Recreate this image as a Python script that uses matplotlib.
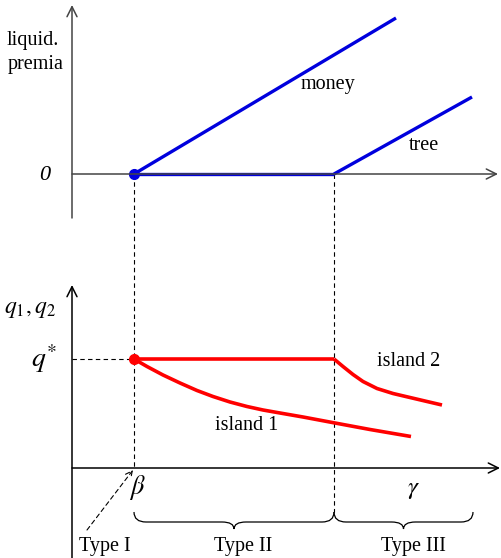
import matplotlib
matplotlib.use('Agg')
import matplotlib.pyplot as plt
from matplotlib.path import Path
from matplotlib.patches import PathPatch

plt.rcParams['font.family'] = ['Liberation Serif', 'DejaVu Serif']
plt.rcParams['mathtext.fontset'] = 'stix'

# picture coordinates (pixels, y grows downward)
x_axis = 72
beta_x = 134
gamma_x = 334
top_zero = 174
bot_zero = 468
qstar = 359

# liquidity premia (top panel)
money_x = [134, 396]
money_y = [174, 18]
flat_x = [134, 334]
flat_y = [174, 174]
tree_x = [334, 472]
tree_y = [174, 97]

# q1, q2 (bottom panel)
q_flat_x = [134, 334]
q_flat_y = [359, 359]
isl1_x = [134, 147, 163, 180, 197, 213, 230, 247, 263, 280, 303, 335, 370, 411]
isl1_y = [359, 366.5, 375, 383, 390.5, 396.5, 402, 406.5, 410, 413, 417, 423, 429.5, 436.5]
isl2_x = [334, 343, 353, 363, 377, 393, 410, 427, 442]
isl2_y = [359, 366.5, 374.5, 381.5, 388.5, 393.5, 397.5, 401.5, 405]

braces = [(134, 334, 'Type II', 243), (334, 473, 'Type III', 413)]

fig = plt.figure(figsize=(5.01, 5.58), dpi=100)
ax = fig.add_axes([0, 0, 1, 1])
ax.set_xlim(0, 501)
ax.set_ylim(558, 0)
ax.axis('off')

def arrow(x0, y0, x1, y1, c):
    ax.annotate('', xy=(x1, y1), xytext=(x0, y0),
                arrowprops=dict(arrowstyle='->', color=c, lw=1.1,
                                mutation_scale=18, shrinkA=0, shrinkB=0))

# axes
arrow(x_axis, 218, x_axis, 5, '#444444')
arrow(x_axis, top_zero, 498, top_zero, '#444444')
arrow(x_axis, 558, x_axis, 285, 'black')
arrow(x_axis, bot_zero, 500, bot_zero, 'black')

# dashed guides
ax.plot([beta_x, beta_x], [top_zero, bot_zero], 'k--', lw=0.8, dashes=(4, 3))
ax.plot([gamma_x, gamma_x], [top_zero, 512], 'k--', lw=0.8, dashes=(4, 3))
ax.plot([x_axis, beta_x], [qstar, qstar], 'k--', lw=0.8, dashes=(4, 3))
ax.annotate('', xy=(133, 470), xytext=(87, 530),
            arrowprops=dict(arrowstyle='->', color='black', lw=0.8,
                            linestyle=(0, (4, 3)), mutation_scale=12,
                            shrinkA=0, shrinkB=0))

# top panel lines
blue = '#0000dd'
ax.plot(money_x, money_y, color=blue, lw=2.4, solid_capstyle='butt')
ax.plot(flat_x, flat_y, color=blue, lw=2.4, solid_capstyle='butt')
ax.plot(tree_x, tree_y, color=blue, lw=2.4, solid_capstyle='butt')
ax.plot([beta_x], [top_zero], 'o', color=blue, ms=7)

# bottom panel lines
red = '#ff0000'
ax.plot(q_flat_x, q_flat_y, color=red, lw=2.6, solid_capstyle='butt')
ax.plot(isl1_x, isl1_y, color=red, lw=2.6, solid_joinstyle='round', solid_capstyle='butt')
ax.plot(isl2_x, isl2_y, color=red, lw=2.6, solid_joinstyle='round', solid_capstyle='butt')
ax.plot([beta_x], [qstar], 'o', color=red, ms=7)

# braces
def brace(x0, x1, y0=512, y1=522, y2=529, r=12):
    xm = (x0 + x1) / 2
    verts = [(x0, y0), (x0, y1), (x0 + r, y1), (xm - r, y1),
             (xm, y1), (xm, y2), (xm, y1), (xm + r, y1),
             (x1 - r, y1), (x1, y1), (x1, y0)]
    codes = [Path.MOVETO, Path.CURVE3, Path.CURVE3, Path.LINETO,
             Path.CURVE3, Path.CURVE3, Path.CURVE3, Path.CURVE3,
             Path.LINETO, Path.CURVE3, Path.CURVE3]
    ax.add_patch(PathPatch(Path(verts, codes), fill=False, lw=0.9, ec='black'))

fs = 14.5
for b0, b1, lab, cx in braces:
    brace(b0, b1)
    ax.text(cx, 546, lab, ha='center', va='center', fontsize=fs)
ax.text(105, 546, 'Type I', ha='center', va='center', fontsize=fs)

# labels
ax.text(33, 40, 'liquid.', ha='center', va='center', fontsize=fs)
ax.text(36, 64, 'premia', ha='center', va='center', fontsize=fs)
ax.text(45, 175, '0', ha='center', va='center', fontsize=16, style='italic')
ax.text(328, 84, 'money', ha='center', va='center', fontsize=fs)
ax.text(424, 146, 'tree', ha='center', va='center', fontsize=fs)
ax.text(30, 309, r'$q_\mathit{1},q_\mathit{2}$', ha='center', va='center', fontsize=17)
ax.text(44, 359, r'$q^{*}$', ha='center', va='center', fontsize=20)
ax.text(409, 362, 'island 2', ha='center', va='center', fontsize=fs)
ax.text(247, 425, 'island 1', ha='center', va='center', fontsize=fs)
ax.text(137, 487, r'$\beta$', ha='center', va='center', fontsize=19)
ax.text(413, 490, r'$\gamma$', ha='center', va='center', fontsize=18)

fig.savefig('out.png', dpi=100)
